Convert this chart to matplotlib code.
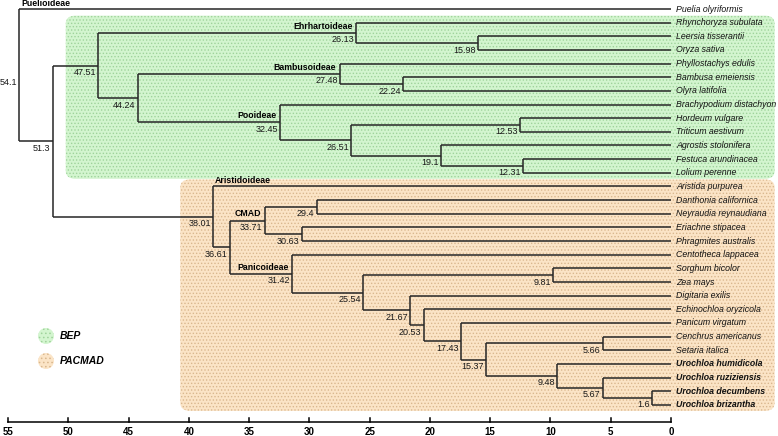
import matplotlib
matplotlib.use("Agg")
import matplotlib.pyplot as plt
from matplotlib.patches import FancyBboxPatch, Ellipse

plt.rcParams['font.family'] = ['Liberation Sans', 'DejaVu Sans']
plt.rcParams['hatch.linewidth'] = 0.6

# --- data ---
tips = [
    "Puelia olyriformis", "Rhynchoryza subulata", "Leersia tisserantii", "Oryza sativa",
    "Phyllostachys edulis", "Bambusa emeiensis", "Olyra latifolia",
    "Brachypodium distachyon", "Hordeum vulgare", "Triticum aestivum",
    "Agrostis stolonifera", "Festuca arundinacea", "Lolium perenne",
    "Aristida purpurea", "Danthonia californica", "Neyraudia reynaudiana",
    "Eriachne stipacea", "Phragmites australis", "Centotheca lappacea",
    "Sorghum bicolor", "Zea mays", "Digitaria exilis", "Echinochloa oryzicola",
    "Panicum virgatum", "Cenchrus americanus", "Setaria italica",
    "Urochloa humidicola", "Urochloa ruziziensis", "Urochloa decumbens",
    "Urochloa brizantha",
]
bold_tips = ["Urochloa humidicola", "Urochloa ruziziensis",
             "Urochloa decumbens", "Urochloa brizantha"]

# internal nodes: age (Mya) and two children (tip name or node index)
node_age = [54.1, 51.3, 47.51, 26.13, 15.98, 44.24, 27.48, 22.24, 32.45, 26.51,
            12.53, 19.1, 12.31, 38.01, 36.61, 33.71, 29.4, 30.63, 31.42, 25.54,
            9.81, 21.67, 20.53, 17.43, 15.37, 5.66, 9.48, 5.67, 1.6]
node_kids = [
    ("Puelia olyriformis", 1), (2, 13), (3, 5),
    ("Rhynchoryza subulata", 4), ("Leersia tisserantii", "Oryza sativa"),
    (6, 8), ("Phyllostachys edulis", 7), ("Bambusa emeiensis", "Olyra latifolia"),
    ("Brachypodium distachyon", 9), (10, 11), ("Hordeum vulgare", "Triticum aestivum"),
    ("Agrostis stolonifera", 12), ("Festuca arundinacea", "Lolium perenne"),
    ("Aristida purpurea", 14), (15, 18), (16, 17),
    ("Danthonia californica", "Neyraudia reynaudiana"),
    ("Eriachne stipacea", "Phragmites australis"),
    ("Centotheca lappacea", 19), (20, 21), ("Sorghum bicolor", "Zea mays"),
    ("Digitaria exilis", 22), ("Echinochloa oryzicola", 23),
    ("Panicum virgatum", 24), (25, 26), ("Cenchrus americanus", "Setaria italica"),
    ("Urochloa humidicola", 27), ("Urochloa ruziziensis", 28),
    ("Urochloa decumbens", "Urochloa brizantha"),
]

# clade labels: (node index, text, side)
clade_labels = [(0, "Puelioideae", "tip"), (3, "Ehrhartoideae", "node"),
                (6, "Bambusoideae", "node"), (8, "Pooideae", "node"),
                (13, "Aristidoideae", "tip"), (15, "CMAD", "node"),
                (18, "Panicoideae", "node")]

ticks = [55, 50, 45, 40, 35, 30, 25, 20, 15, 10, 5, 0]

groups = ["BEP", "PACMAD"]
group_fill = ["#d3f5cf", "#fbe4c6"]
group_dots = ["#9fd39b", "#d9b78e"]
group_nodes = [2, 13]

# --- layout helpers ---
ROW = 13.65
tip_y = {t: 9 + ROW * i for i, t in enumerate(tips)}
node_y = {}

def get_y(k):
    if isinstance(k, str):
        return tip_y[k]
    if k not in node_y:
        a, b = node_kids[k]
        node_y[k] = (get_y(a) + get_y(b)) / 2
    return node_y[k]

def get_x(k):
    return 0.0 if isinstance(k, str) else node_age[k]

def tip_range(k):
    if isinstance(k, str):
        i = tips.index(k)
        return i, i
    a, b = node_kids[k]
    return tip_range(a)[0], tip_range(b)[1]

fig = plt.figure(figsize=(7.78, 4.36), dpi=100)
ax = fig.add_axes([0, 0, 1, 1])
# x: 55 at px 8, 0 at px 671
px = 663 / 55
ax.set_xlim(671 / px, (671 - 778) / px)
ax.set_ylim(436, 0)
ax.axis('off')

# highlight boxes
for g, fc, dc, n in zip(groups, group_fill, group_dots, group_nodes):
    lo, hi = tip_range(n)
    x0 = node_age[n] + 2.7
    x1 = -8.6
    y0 = tip_y[tips[lo]] - 7
    y1 = tip_y[tips[hi]] + 6
    box = FancyBboxPatch((x1, y0), x0 - x1, y1 - y0,
                         boxstyle="round,pad=0,rounding_size=0.8",
                         facecolor=fc, edgecolor=dc, linewidth=0,
                         hatch='.....', zorder=0, mutation_aspect=10)
    ax.add_patch(box)

# branches
lc = '#262626'
for i, (a, b) in enumerate(node_kids):
    x = node_age[i]
    ya, yb = get_y(a), get_y(b)
    ax.plot([x, x], [ya, yb], color=lc, lw=1.1, solid_capstyle='butt', zorder=2)
    for k, yk in ((a, ya), (b, yb)):
        ax.plot([x, get_x(k)], [yk, yk], color=lc, lw=1.1, solid_capstyle='butt', zorder=2)

# tip labels
for t in tips:
    ax.text(-0.45, tip_y[t], t, ha='left', va='center', fontsize=6.3, style='italic',
            fontweight='bold' if t in bold_tips else 'normal', color='#111111')

# node ages
for i, age in enumerate(node_age):
    ax.annotate(f"{age:g}", (age, get_y(i)), xytext=(-1.5, -5), textcoords='offset points',
                ha='right', va='center', fontsize=6.5, color='#1a1a1a')

# clade names
for n, name, side in clade_labels:
    if side == "tip":
        ax.annotate(name, (node_age[n], tip_y[node_kids[n][0]]), xytext=(1.5, 1),
                    textcoords='offset points', ha='left', va='bottom',
                    fontsize=6.3, fontweight='bold')
    else:
        ax.annotate(name, (node_age[n], get_y(n)), xytext=(-2.5, 1.5),
                    textcoords='offset points', ha='right', va='bottom',
                    fontsize=6.3, fontweight='bold')

# time axis
ay = 422
ax.plot([ticks[0], ticks[-1]], [ay, ay], color='black', lw=1.1)
for t in ticks:
    ax.plot([t, t], [ay - 4, ay], color='black', lw=1.1)
    ax.text(t, ay + 9.5, str(t), ha='center', va='center', fontsize=7, fontweight='bold')

# legend
for j, (g, fc, dc) in enumerate(zip(groups, group_fill, group_dots)):
    ly = 336 + 25 * j
    ax.add_patch(Ellipse((51.85, ly), 16 / px, 16, facecolor=fc, edgecolor=dc, lw=0,
                         hatch='....', zorder=1))
    ax.text(50.7, ly, g, ha='left', va='center', fontsize=7.5,
            fontweight='bold', style='italic')

fig.savefig("out.png", dpi=100)
